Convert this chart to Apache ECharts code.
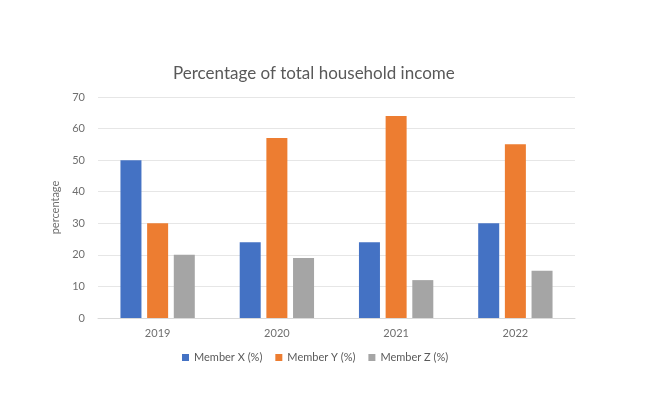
<!DOCTYPE html>
<html>
<head>
<meta charset="utf-8">
<script src="https://cdn.jsdelivr.net/npm/echarts@6/dist/echarts.min.js"></script>
<style>html,body{margin:0;padding:0;background:#fff;}#c{width:665px;height:400px;}</style>
</head>
<body>
<div id="c"></div>
<script>
const categories = ['2019', '2020', '2021', '2022'];
const memberX = [50, 24, 24, 30];
const memberY = [30, 57, 64, 55];
const memberZ = [20, 19, 12, 15];
const seriesNames = ['Member X (%)', 'Member Y (%)', 'Member Z (%)'];
const colors = ['#4472C4', '#ED7D31', '#A5A5A5'];

const chart = echarts.init(document.getElementById('c'));
const font = 'Lato, "Open Sans", sans-serif';
const mk = (name, data, color) => ({
  name, type: 'bar', data, barWidth: 21, barGap: '27%',
  itemStyle: { color }
});
chart.setOption({
  animation: false,
  textStyle: { fontFamily: font },
  title: {
    text: 'Percentage of total household income',
    left: 168, top: 60,
    textStyle: { fontSize: 17, fontWeight: 'normal', color: '#595959', fontFamily: font }
  },
  legend: {
    bottom: 32, left: 177,
    itemWidth: 7, itemHeight: 7, itemGap: 13, icon: 'rect',
    textStyle: { fontSize: 11, color: '#595959', fontFamily: font },
    data: seriesNames
  },
  grid: { left: 98, right: 90, top: 97, bottom: 82 },
  xAxis: {
    type: 'category', data: categories,
    axisLine: { lineStyle: { color: '#d9d9d9' } },
    axisTick: { show: false },
    axisLabel: { color: '#6f6f6f', fontSize: 11, margin: 10 }
  },
  yAxis: {
    type: 'value', min: 0, max: 70, interval: 10,
    name: 'percentage', nameLocation: 'middle', nameGap: 30, nameRotate: 90,
    nameTextStyle: { color: '#6f6f6f', fontSize: 11 },
    axisLine: { show: false }, axisTick: { show: false },
    axisLabel: { color: '#6f6f6f', fontSize: 11, margin: 13 },
    splitLine: { lineStyle: { color: '#e6e6e6' } }
  },
  series: [
    mk(seriesNames[0], memberX, colors[0]),
    mk(seriesNames[1], memberY, colors[1]),
    mk(seriesNames[2], memberZ, colors[2])
  ]
});
</script>
</body>
</html>
